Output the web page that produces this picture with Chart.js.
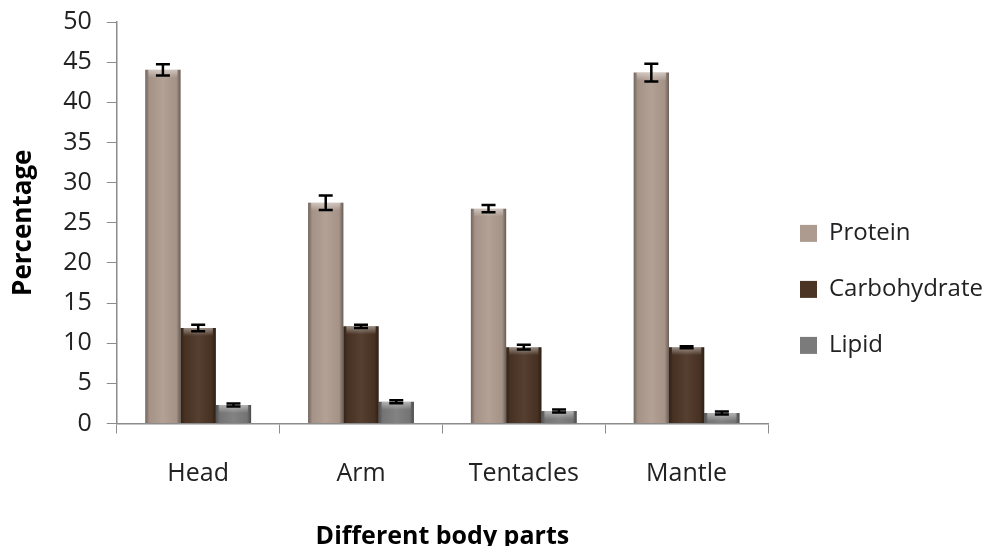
<!DOCTYPE html>
<html>
<head>
<meta charset="utf-8">
<script src="https://cdn.jsdelivr.net/npm/chart.js@4.4.1/dist/chart.umd.min.js"></script>
<style>
    body { margin: 0; background: #fff; overflow: hidden; }
    #wrap { width: 992px; height: 546px; position: relative; }
</style>
</head>
<body>
<div id="wrap"><canvas id="bodyChart"></canvas></div>
<script>
// values
const categories = ['Head', 'Arm', 'Tentacles', 'Mantle'];
const protein = [44.05, 27.5, 26.75, 43.7];
const carbohydrate = [11.9, 12.1, 9.5, 9.5];
const lipid = [2.3, 2.7, 1.55, 1.3];
const proteinErr = [0.7, 0.9, 0.45, 1.1];
const carbohydrateErr = [0.4, 0.2, 0.3, 0.12];
const lipidErr = [0.18, 0.18, 0.18, 0.18];
const yTicks = [0, 5, 10, 15, 20, 25, 30, 35, 40, 45, 50];

const errors = [proteinErr, carbohydrateErr, lipidErr];
const axisGray = '#8c8c8c';
const textColor = '#222222';
const family = "'Open Sans', sans-serif";

// darker edges / light top cap, a rough take on the office 3D bars
const barShading = {
    id: 'barShading',
    afterDatasetsDraw(chart) {
        const ctx = chart.ctx;
        chart.data.datasets.forEach((ds, i) => {
            chart.getDatasetMeta(i).data.forEach(bar => {
                const left = bar.x - bar.width / 2;
                const top = Math.min(bar.y, bar.base);
                const h = Math.abs(bar.base - bar.y);
                const g = ctx.createLinearGradient(left, 0, left + bar.width, 0);
                g.addColorStop(0, 'rgba(0,0,0,0.35)');
                g.addColorStop(0.12, 'rgba(0,0,0,0.05)');
                g.addColorStop(0.5, 'rgba(255,255,255,0.06)');
                g.addColorStop(0.88, 'rgba(0,0,0,0.05)');
                g.addColorStop(1, 'rgba(0,0,0,0.4)');
                ctx.save();
                ctx.fillStyle = g;
                ctx.fillRect(left, top, bar.width, h);
                const capH = Math.min(8, h);
                const cg = ctx.createLinearGradient(0, top, 0, top + capH);
                cg.addColorStop(0, 'rgba(255,255,255,0.45)');
                cg.addColorStop(1, 'rgba(255,255,255,0)');
                ctx.fillStyle = cg;
                ctx.fillRect(left + 3, top, bar.width - 6, capH);
                ctx.restore();
            });
        });
    }
};

const errorBars = {
    id: 'errorBars',
    afterDatasetsDraw(chart) {
        const ctx = chart.ctx;
        const y = chart.scales.y;
        ctx.save();
        ctx.strokeStyle = '#000';
        ctx.lineWidth = 2.5;
        chart.data.datasets.forEach((ds, i) => {
            chart.getDatasetMeta(i).data.forEach((bar, j) => {
                const v = ds.data[j];
                const e = errors[i][j];
                const yTop = y.getPixelForValue(v + e);
                const yBot = y.getPixelForValue(v - e);
                const half = 7;
                ctx.beginPath();
                ctx.moveTo(bar.x, yTop);
                ctx.lineTo(bar.x, yBot);
                ctx.moveTo(bar.x - half, yTop);
                ctx.lineTo(bar.x + half, yTop);
                ctx.moveTo(bar.x - half, yBot);
                ctx.lineTo(bar.x + half, yBot);
                ctx.stroke();
            });
        });
        ctx.restore();
    }
};

const ctx = document.getElementById('bodyChart').getContext('2d');
new Chart(ctx, {
    type: 'bar',
    data: {
        labels: categories,
        datasets: [
            { label: 'Protein', data: protein, backgroundColor: '#ae9b8f' },
            { label: 'Carbohydrate', data: carbohydrate, backgroundColor: '#4b3424' },
            { label: 'Lipid', data: lipid, backgroundColor: '#7b7b7b' }
        ]
    },
    options: {
        responsive: true,
        maintainAspectRatio: false,
        animation: false,
        layout: { padding: { top: 7, left: 0, right: 0, bottom: 0 } },
        datasets: {
            bar: { barPercentage: 1, categoryPercentage: 0.65, borderWidth: 0 }
        },
        scales: {
            x: {
                grid: { display: true, drawOnChartArea: false, tickLength: 10, color: axisGray },
                border: { color: axisGray, width: 1.5 },
                ticks: { color: textColor, font: { family: family, size: 25 }, padding: 25 },
                title: {
                    display: true,
                    text: 'Different body parts',
                    color: '#000',
                    font: { family: family, size: 25, weight: 'bold', lineHeight: 0.7 },
                    padding: { top: 15, bottom: 0 }
                }
            },
            y: {
                min: 0,
                max: 50,
                afterBuildTicks: (axis) => { axis.ticks = yTicks.map(v => ({ value: v })); },
                // tick padding would otherwise push the plot top down
                afterFit: (axis) => { axis.paddingTop = 22; },
                grid: { display: true, drawOnChartArea: false, tickLength: 10, color: axisGray },
                border: { color: axisGray, width: 1.5 },
                ticks: { color: textColor, font: { family: family, size: 25 }, padding: 15 },
                title: {
                    display: true,
                    text: 'Percentage',
                    color: '#000',
                    font: { family: family, size: 26, weight: 'bold' },
                    padding: { top: 8, bottom: 9 }
                }
            }
        },
        plugins: {
            tooltip: { enabled: false },
            legend: {
                position: 'right',
                align: 'start',
                maxWidth: 224,
                title: { display: true, text: ' ', font: { size: 12 }, padding: { top: 168, bottom: 0 } },
                labels: {
                    boxWidth: 17,
                    boxHeight: 17,
                    padding: 32,
                    color: textColor,
                    font: { family: family, size: 24 }
                }
            }
        }
    },
    plugins: [barShading, errorBars]
});
</script>
</body>
</html>
